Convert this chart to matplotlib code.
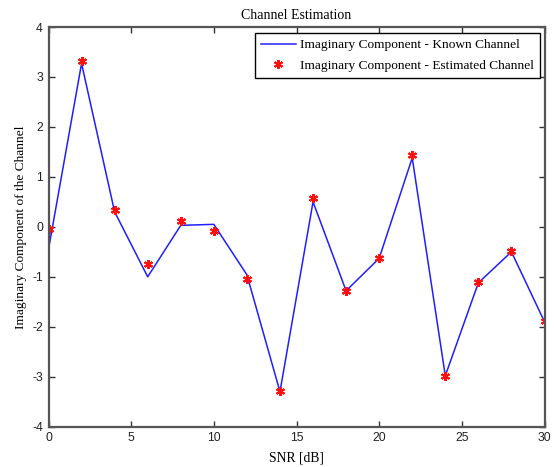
import matplotlib
matplotlib.use("Agg")
import matplotlib.pyplot as plt
import numpy as np

plt.rcParams["axes.unicode_minus"] = False

snr = [0, 2, 4, 6, 8, 10, 12, 14, 16, 18, 20, 22, 24, 26, 28, 30]
known = [-0.45, 3.27, 0.30, -1.00, 0.03, 0.05, -0.96, -3.30, 0.50, -1.28, -0.63, 1.38, -2.98, -1.12, -0.50, -1.90]
estimated = [-0.04, 3.32, 0.33, -0.75, 0.12, -0.08, -1.05, -3.29, 0.57, -1.28, -0.63, 1.43, -2.98, -1.11, -0.49, -1.88]
xticks = [0, 5, 10, 15, 20, 25, 30]
yticks = [-4, -3, -2, -1, 0, 1, 2, 3, 4]

serif = ["Liberation Serif", "DejaVu Serif"]
sans = ["Liberation Sans", "DejaVu Sans"]

fig = plt.figure(figsize=(5.54, 4.67), dpi=100)
ax = fig.add_axes([48.5/554, 1-426.7/467, (544.5-48.5)/554, (426.7-27)/467])

ax.plot(snr, known, color="#1f1fff", lw=1.1, label="Imaginary Component - Known Channel")
ax.plot(snr, estimated, linestyle="none", marker=(6, 2, 0), markersize=6.5,
        markeredgewidth=1.5, color="#ff1010", label="Imaginary Component - Estimated Channel")

ax.set_xlim(0, 30)
ax.set_ylim(-4, 4)
ax.set_xticks(xticks)
ax.set_yticks(yticks)
ax.tick_params(direction="in", top=True, right=True, length=4, width=1,
               colors="#333333", labelsize=8.8, pad=4)
for lab in ax.get_xticklabels() + ax.get_yticklabels():
    lab.set_family(sans)
    lab.set_color("#222222")
for s in ax.spines.values():
    s.set_color("#555555")
    s.set_linewidth(1.6)

ax.set_title("Channel Estimation", family=serif, fontsize=10, pad=6)
ax.set_xlabel("SNR [dB]", family=serif, fontsize=9.8, labelpad=5)
ax.set_ylabel("Imaginary Component of the Channel", family=serif, fontsize=9.6, labelpad=4)

leg = ax.legend(loc="upper right", bbox_to_anchor=(0.99, 0.985), prop={"family": serif, "size": 9.6},
                frameon=True, fancybox=False, framealpha=1, edgecolor="black",
                borderpad=0.45, handlelength=2.6, handletextpad=0.3, labelspacing=0.6,
                borderaxespad=0)
leg.get_frame().set_linewidth(1.0)

fig.savefig("out.png", dpi=100)
